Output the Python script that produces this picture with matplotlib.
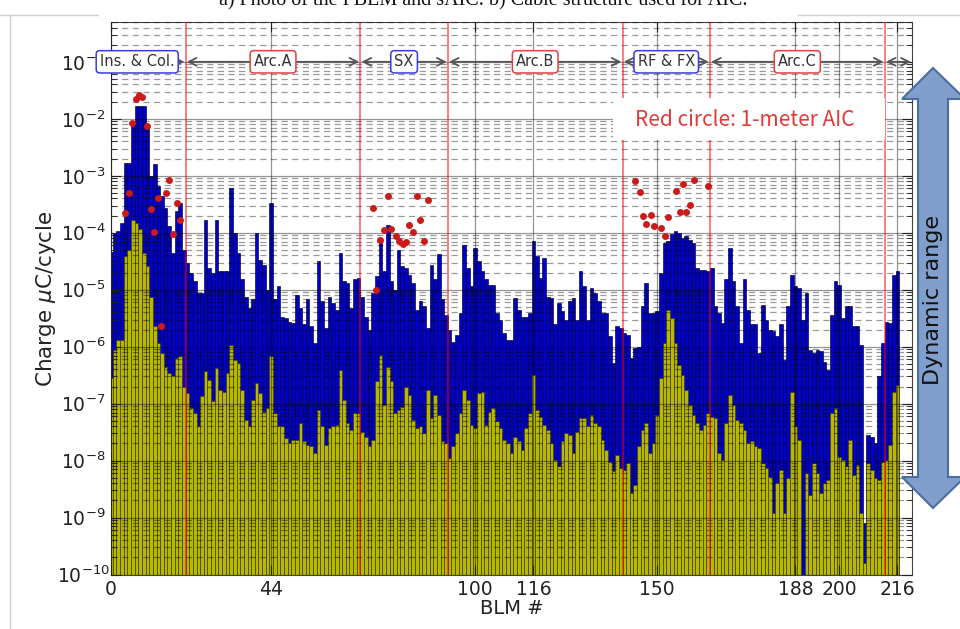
import numpy as np
import matplotlib.pyplot as plt
from matplotlib.patches import Polygon, Rectangle

# log10 of charge per BLM (uC/cycle)
blue_log = [
    -4.33, -4.00, -3.97, -3.83, -2.77, -2.77, -2.07, -1.78, -1.78, -1.78,
    -2.13, -3.01, -2.80, -3.18, -3.36, -3.56, -3.89, -4.36, -3.62, -3.48,
    -4.30, -4.53, -4.71, -4.85, -5.06, -5.06, -3.77, -4.62, -4.71, -3.77,
    -4.68, -4.68, -4.68, -3.21, -4.00, -4.36, -4.82, -5.12, -5.32, -5.17,
    -4.00, -4.47, -4.56, -5.00, -3.48, -5.17, -4.94, -5.47, -5.50, -5.56,
    -5.59, -5.09, -5.32, -5.61, -5.17, -5.64,
    -5.94, -4.50, -5.20, -5.67, -5.12, -5.23, -5.35, -4.36, -4.85, -4.88,
    -5.32, -4.82, -4.79, -5.12, -5.47, -5.70, -5.06, -4.76, -4.18, -4.68,
    -3.86, -4.85, -5.00, -4.30, -4.59, -4.62, -4.74, -4.88, -5.35, -5.20,
    -5.29, -5.67, -4.56, -4.82, -4.38, -5.17, -5.44, -5.70, -5.91, -5.79,
    -5.41, -4.21, -4.62, -4.94, -4.27, -4.50, -4.68, -4.82, -4.91, -4.91,
    -5.41, -5.53, -5.76, -5.88,
    -5.88, -5.15, -5.35, -5.47, -5.47, -5.41, -4.15, -4.41, -4.79, -4.44,
    -5.12, -5.15, -5.61, -5.23, -5.38, -5.53, -5.20, -5.15, -5.53, -4.68,
    -4.94, -5.53, -4.97, -5.06, -5.20, -5.41, -5.41, -5.82, -6.29, -5.64,
    -5.67, -5.76, -5.79, -6.20, -6.02, -6.00, -5.29, -4.88, -5.41, -5.41,
    -5.38, -4.71, -4.18, -4.15, -4.03, -3.97, -4.00, -4.09, -4.06, -4.12,
    -4.18, -4.62, -4.65, -4.65, -4.68,
    -4.62, -5.29, -5.41, -5.59, -4.82, -4.27, -4.85, -5.29, -5.94, -4.82,
    -5.35, -5.61, -5.61, -6.11, -5.26, -5.53, -5.70, -5.73, -5.82, -5.61,
    -6.23, -5.29, -4.74, -4.94, -4.97, -5.53, -5.06, -6.05, -6.11, -6.05,
    -6.08, -6.26, -6.41, -5.44, -4.85, -4.91, -5.50, -5.29, -5.29, -5.64,
    -5.64, -5.97, -9.10, -7.55, -7.58, -7.69, -6.52, -5.94, -5.56, -5.59,
    -4.74, -4.68,
]
yellow_log = [
    -6.55, -6.05, -5.88, -5.88, -4.41, -4.30, -3.77, -3.83, -3.94, -4.36,
    -4.59, -5.12, -5.64, -5.94, -6.11, -6.35, -6.46, -6.52, -6.20, -6.17,
    -6.70, -6.82, -7.08, -7.17, -7.40, -6.87, -6.43, -6.58, -6.96, -6.38,
    -6.76, -6.79, -6.46, -5.97, -6.23, -6.29, -6.76, -7.28, -7.40, -6.93,
    -6.64, -6.82, -7.14, -7.08, -6.17, -7.17, -7.40, -7.40, -7.61, -7.69,
    -7.64, -7.64, -7.34, -7.66, -7.72, -7.75,
    -7.87, -7.11, -7.40, -7.72, -7.43, -7.40, -7.37, -6.41, -6.93, -7.34,
    -7.46, -7.17, -7.17, -7.49, -7.58, -7.75, -7.64, -6.61, -6.14, -7.02,
    -6.35, -6.61, -7.17, -7.11, -7.05, -6.70, -6.84, -7.28, -7.43, -7.40,
    -7.52, -6.76, -7.25, -6.84, -7.20, -7.66, -7.69, -7.96, -7.75, -7.52,
    -7.17, -6.76, -6.93, -7.37, -7.43, -6.82, -6.79, -7.37, -7.14, -7.08,
    -7.31, -7.43, -7.64, -7.69,
    -7.87, -7.58, -7.66, -7.81, -7.43, -7.17, -6.49, -7.11, -7.23, -7.37,
    -7.46, -7.69, -7.99, -8.10, -7.66, -7.52, -7.55, -7.87, -7.49, -7.25,
    -7.25, -7.40, -7.20, -7.34, -7.40, -7.64, -7.81, -8.02, -8.19, -7.90,
    -8.13, -8.16, -8.05, -8.57, -8.43, -7.75, -7.46, -7.34, -7.87, -7.69,
    -7.20, -6.55, -5.94, -5.35, -5.50, -5.94, -6.32, -6.49, -6.76, -7.02,
    -7.20, -7.34, -7.46, -7.37, -7.17,
    -7.23, -7.25, -7.87, -7.99, -7.34, -6.84, -7.02, -7.28, -7.34, -7.46,
    -7.69, -7.66, -7.75, -7.78, -8.05, -8.13, -8.28, -8.92, -8.40, -8.16,
    -8.92, -8.31, -6.79, -7.40, -7.64, -11.0, -8.22, -8.60, -8.05, -8.22,
    -8.57, -8.40, -8.34, -7.17, -7.08, -7.93, -7.99, -8.10, -7.64, -8.25,
    -8.07, -8.92, -9.80, -8.05, -8.16, -8.31, -8.34, -8.02, -7.99, -7.72,
    -6.79, -6.67,
]

# red circles: 1-meter AIC
aic_blm = [3.9, 5.0, 5.9, 6.8, 7.7, 8.4, 10.0, 11.0, 11.9, 12.8, 15.0, 15.9,
           16.9, 18.1, 19.0, 13.8,
           72.0, 76.1, 84.0, 87.0, 81.9, 85.0, 74.9, 77.0, 83.0, 74.0, 78.3,
           79.2, 80.2, 81.0, 86.1, 72.9,
           144.0, 145.2, 146.1, 148.3, 147.0, 149.2, 151.0, 152.2, 153.1,
           155.3, 157.1, 160.2, 156.2, 158.0, 159.1, 164.1]
aic_log = [-3.65, -3.30, -2.08, -1.66, -1.59, -1.61, -2.13, -3.58, -3.98, -3.39,
           -3.31, -3.08, -4.02, -3.48, -3.77, -5.64,
           -3.56, -3.35, -3.35, -3.43, -3.86, -3.77, -3.96, -3.93, -3.99, -4.13,
           -4.05, -4.14, -4.19, -4.17, -4.15, -5.00,
           -3.10, -3.29, -3.71, -3.68, -3.84, -3.89, -3.92, -4.05, -3.73, -3.27,
           -3.15, -3.08, -3.64, -3.64, -3.52, -3.18]

section_names = ['Ins. & Col.', 'Arc.A', 'SX', 'Arc.B', 'RF & FX', 'Arc.C']
section_edges = [0, 20.5, 68.5, 92.5, 140.5, 164.5, 212.5, 220]
section_label_x = [7.2, 44.5, 80.5, 116.5, 152.5, 188.5]
section_colors = ['#3a3ae0', '#e04040', '#3a3ae0', '#e04040', '#3a3ae0', '#e04040']
xtick_vals = [0, 44, 100, 116, 150, 188, 200, 216]

W, H = 960, 629
fig = plt.figure(figsize=(W / 100, H / 100), dpi=100)
ax = fig.add_axes([111 / W, 1 - 574.6 / H, (912 - 111) / W, (574.6 - 22) / H])

blm = np.arange(len(blue_log))
blue = 10.0 ** np.array(blue_log)
yellow = 10.0 ** np.array(yellow_log)
floor = 1e-12
ax.bar(blm, blue - floor, bottom=floor, width=1.0, color='#0000c8',
       edgecolor='#000030', linewidth=0.45, zorder=1)
ax.bar(blm, yellow - floor, bottom=floor, width=1.0, color='#b8b800',
       edgecolor='#3c3c00', linewidth=0.45, zorder=1.5)

ax.set_yscale('log')
ax.set_xticks(xtick_vals)
yt = 10.0 ** np.arange(-10, 0)
ax.set_yticks(yt)
ax.set_yticklabels([r'$10^{%d}$' % e for e in range(-10, 0)])
ax.set_yticks([m * 10.0 ** e for e in range(-10, 0) for m in range(2, 10)],
              minor=True)
ax.set_ylim(1e-10, 0.5)
ax.set_xlim(0, 220)
for lab in ax.get_yticklabels():
    lab.set_horizontalalignment('center')
ax.tick_params(which='both', direction='in', top=True, right=True,
               labelsize=13.5, colors='#222222')
ax.tick_params(axis='y', pad=20)
ax.tick_params(axis='x', pad=4)
ax.tick_params(which='major', length=7)
ax.tick_params(which='minor', length=4)
ax.tick_params(axis='x', which='minor', bottom=False, top=False)

# grid on top, semi-transparent black: grey on white, dark on yellow
ax.set_axisbelow(False)
ax.grid(which='major', color='k', alpha=0.42, ls='-', lw=0.9)
ax.grid(which='minor', axis='y', color='k', alpha=0.4, ls=(0, (5, 3.5)), lw=0.9)
for sp in ax.spines.values():
    sp.set_color('#444444')

for b in section_edges[1:-1]:
    ax.axvline(b, color='red', alpha=0.55, lw=1.3, zorder=3)

ax.plot(aic_blm, 10.0 ** np.array(aic_log), 'o', color='#cc1a1a', ms=5,
        mec='none', zorder=4)

ylab = 0.1
for i in range(len(section_edges) - 1):
    ax.annotate('', xy=(section_edges[i] + 0.3, ylab),
                xytext=(section_edges[i + 1] - 0.3, ylab),
                arrowprops=dict(arrowstyle='<->', color='#555555', lw=1.3,
                                shrinkA=0, shrinkB=0, mutation_scale=14),
                zorder=5, annotation_clip=False)
for name, xm, c in zip(section_names, section_label_x, section_colors):
    ax.text(xm, ylab, name, ha='center', va='center', fontsize=10.5,
            color='#333333', zorder=6, clip_on=False,
            family=['Liberation Sans Narrow', 'DejaVu Sans'],
            bbox=dict(boxstyle='round,pad=0.25', fc='white', ec=c, lw=1.1))

ax.set_xlabel('BLM #', fontsize=14, color='#222222')
ax.set_ylabel(r'Charge $\mu$C/cycle', fontsize=15.5, color='#222222')
ax.xaxis.set_label_coords(0.5, -(599 - 574.6) / 552.6)
ax.yaxis.set_label_coords(-(111 - 58) / 801, 0.5)

# overlay in pixel coordinates for the annotation graphics
ov = fig.add_axes([0, 0, 1, 1], facecolor='none')
ov.set_xlim(0, W)
ov.set_ylim(H, 0)
ov.axis('off')

# page frame remnants
ov.plot([0, 98], [15, 15], color='#cfcfcf', lw=1)
ov.plot([798, 960], [15, 15], color='#cfcfcf', lw=1)
ov.plot([9.5, 9.5], [15, 629], color='#cfcfcf', lw=1)

ov.add_patch(Rectangle((613, 98), 272, 42, fc='white', ec='none', zorder=1))
ov.text(745, 120, 'Red circle: 1-meter AIC', ha='center', va='center',
        fontsize=15, color='#e03a3a', family=['Noto Sans CJK JP', 'DejaVu Sans'],
        zorder=2)

arrow_pts = [(933, 68), (965, 99), (948, 99), (948, 477), (965, 477),
             (933, 508), (902, 477), (918, 477), (918, 99), (902, 99)]
ov.add_patch(Polygon(arrow_pts, closed=True, fc='#809fcc', ec='#4a6e9e',
                     lw=1.5, zorder=3))
ov.text(933, 300, 'Dynamic range', rotation=90, ha='center', va='center',
        fontsize=16, color='#111111', zorder=4)

ov.text(483, 5, 'a) Photo of the PBLM and sAIC. b) Cable structure used for AIC.',
        ha='center', va='baseline', fontsize=14.5, family='Liberation Serif',
        color='#111111')

fig.savefig('out.png', dpi=100)
